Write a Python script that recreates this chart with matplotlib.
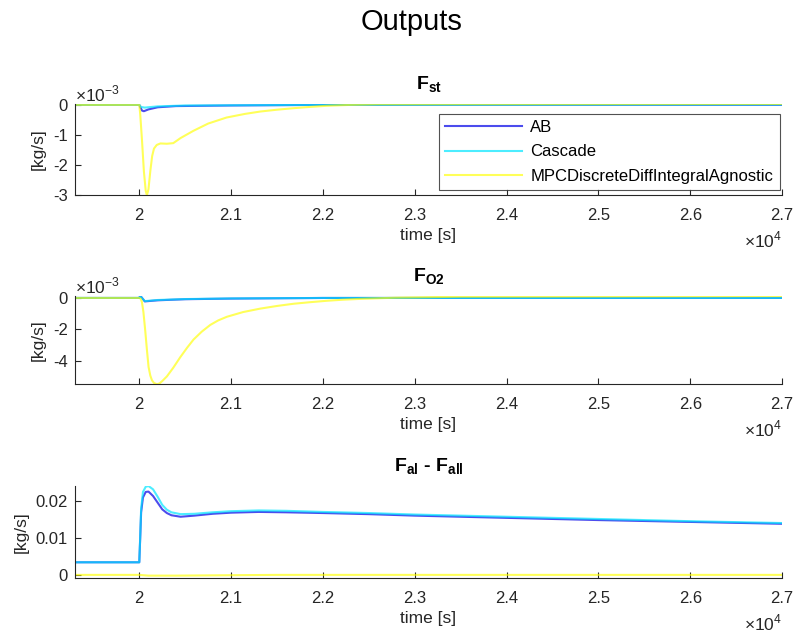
import matplotlib
matplotlib.use('Agg')
import matplotlib.pyplot as plt
import matplotlib.transforms as mtransforms
import numpy as np
from matplotlib.ticker import FuncFormatter, FixedLocator

plt.rcParams['font.family'] = ['Liberation Sans', 'DejaVu Sans']
plt.rcParams['mathtext.fontset'] = 'custom'
plt.rcParams['mathtext.rm'] = 'Liberation Sans'
plt.rcParams['mathtext.bf'] = 'Liberation Sans:bold'

names = ['AB', 'Cascade', 'MPCDiscreteDiffIntegralAgnostic']
colors = ['#0000e6', '#00e6ff', '#ffff00']
alphas = [0.7, 0.7, 0.65]

# F_st [kg/s]
t_st_ab = [19300, 20000, 20015, 20030, 20050, 20100, 20200, 20400, 21000, 22000, 27000]
st_ab = [0, 0, -0.1e-3, -0.19e-3, -0.21e-3, -0.15e-3, -0.08e-3, -0.04e-3, -0.02e-3, 0, 0]
t_st_cas = [19300, 20000, 20020, 20060, 20200, 20500, 22000, 27000]
st_cas = [0, 0, -0.07e-3, -0.09e-3, -0.05e-3, -0.02e-3, 0, 0.01e-3]
t_st_mpc = [19300, 20000, 20010, 20030, 20050, 20070, 20083, 20100, 20120, 20140, 20160,
            20190, 20230, 20300, 20370, 20450, 20590, 20750, 20950, 21150, 21320, 21500,
            21680, 21850, 22040, 22300, 22600, 27000]
st_mpc = [0, 0, -0.3e-3, -1.2e-3, -2.2e-3, -2.85e-3, -3.0e-3, -2.8e-3, -2.2e-3, -1.7e-3, -1.45e-3,
          -1.33e-3, -1.28e-3, -1.29e-3, -1.27e-3, -1.1e-3, -0.86e-3, -0.62e-3, -0.42e-3, -0.3e-3,
          -0.22e-3, -0.16e-3, -0.11e-3, -0.07e-3, -0.03e-3, 0, 0.02e-3, 0.03e-3]

# F_O2 [kg/s]
t_o2_ab = [19300, 20000, 20010, 20030, 20060, 20200, 20500, 21000, 22000, 27000]
o2_ab = [0, 0, 0.15e-3, 0, -0.22e-3, -0.15e-3, -0.08e-3, -0.04e-3, 0, 0]
t_o2_cas = [19300, 20000, 20010, 20030, 20060, 20200, 20500, 21000, 22000, 27000]
o2_cas = [0, 0, 0.12e-3, 0, -0.2e-3, -0.13e-3, -0.07e-3, -0.03e-3, 0, 0]
t_o2_mpc = [19300, 20000, 20015, 20029, 20045, 20065, 20083, 20101, 20120, 20138, 20160,
            20192, 20220, 20250, 20301, 20370, 20446, 20520, 20591, 20680, 20773, 20860,
            20954, 21130, 21317, 21500, 21680, 21860, 22042, 22220, 22405, 22800, 23500, 27000]
o2_mpc = [0, 0, -0.05e-3, -0.27e-3, -0.9e-3, -2.1e-3, -3.3e-3, -4.4e-3, -4.95e-3, -5.25e-3,
          -5.42e-3, -5.5e-3, -5.45e-3, -5.3e-3, -5.0e-3, -4.45e-3, -3.78e-3, -3.18e-3,
          -2.65e-3, -2.15e-3, -1.72e-3, -1.43e-3, -1.2e-3, -0.9e-3, -0.68e-3, -0.51e-3,
          -0.37e-3, -0.27e-3, -0.18e-3, -0.11e-3, -0.06e-3, 0.02e-3, 0.08e-3, 0.12e-3]

# F_al - F_all [kg/s]
t_al = [19300, 20000, 20010, 20020, 20040, 20070, 20100, 20150, 20200, 20250, 20300, 20350,
        20450, 20600, 20800, 21000, 21300, 21600, 22000, 22500, 23000, 24000, 25000, 26000, 27000]
al_ab = [0.0035, 0.0035, 0.010, 0.017, 0.021, 0.0225, 0.0226, 0.0214, 0.0196, 0.0178, 0.0168,
         0.0162, 0.0158, 0.0161, 0.0166, 0.0169, 0.0171, 0.0170, 0.0168, 0.0165, 0.0161,
         0.0155, 0.0149, 0.0144, 0.0139]
al_cas = [0.0035, 0.0035, 0.0105, 0.018, 0.0225, 0.0239, 0.0241, 0.0232, 0.0212, 0.0190,
          0.0177, 0.0170, 0.0165, 0.0166, 0.0170, 0.0173, 0.0175, 0.0174, 0.0171, 0.0168,
          0.0164, 0.0158, 0.0152, 0.0146, 0.0141]
t_al_mpc = [19300, 20000, 20100, 20400, 21500, 27000]
al_mpc = [0.0001, 0.0001, -0.0001, -0.0001, 0.0001, 0.0001]

fig = plt.figure(figsize=(7.98, 6.34), dpi=100)
fig.text(0.516, 0.966, 'Outputs', ha='center', va='center', fontsize=21)

boxes = [[0.094, 0.692, 0.886, 0.144],
         [0.094, 0.394, 0.886, 0.139],
         [0.094, 0.088, 0.886, 0.146]]
titles = [r'F$_{\mathbf{st}}$', r'F$_{\mathbf{O2}}$', r'F$_{\mathbf{al}}$ - F$_{\mathbf{all}}$']
series = [
    [(t_st_ab, st_ab), (t_st_cas, st_cas), (t_st_mpc, st_mpc)],
    [(t_o2_ab, o2_ab), (t_o2_cas, o2_cas), (t_o2_mpc, o2_mpc)],
    [(t_al, al_ab), (t_al, al_cas), (t_al_mpc, al_mpc)],
]
ylims = [(-3.0e-3, 0.03e-3), (-5.5e-3, 0.12e-3), (-0.0008, 0.0242)]
yticks = [[-3e-3, -2e-3, -1e-3, 0], [-4e-3, -2e-3, 0], [0, 0.01, 0.02]]
yscale = [1e3, 1e3, 1]

axes = []
for i in range(3):
    ax = fig.add_axes(boxes[i])
    axes.append(ax)
    for k in range(3):
        t, v = series[i][k]
        ax.plot(t, v, color=colors[k], lw=1.5, alpha=alphas[k], label=names[k])
    ax.set_xlim(19300, 27000)
    ax.set_ylim(*ylims[i])
    ax.xaxis.set_major_locator(FixedLocator([20000, 21000, 22000, 23000, 24000, 25000, 26000, 27000]))
    ax.xaxis.set_major_formatter(FuncFormatter(lambda v, _: f'{v / 1e4:g}'))
    ax.yaxis.set_major_locator(FixedLocator(yticks[i]))
    sc = yscale[i]
    ax.yaxis.set_major_formatter(FuncFormatter(lambda v, _, sc=sc: f'{round(v * sc, 6):g}'))
    for s in ['top', 'right']:
        ax.spines[s].set_visible(False)
    for s in ['left', 'bottom']:
        ax.spines[s].set_color('#262626')
        ax.spines[s].set_linewidth(0.8)
    ax.tick_params(direction='in', length=4, width=0.8, colors='#262626', labelsize=12)
    ax.tick_params(axis='x', pad=9)
    ax.tick_params(axis='y', pad=5)
    ax.set_xlabel('time [s]', fontsize=12.5, color='#262626', labelpad=4)
    ax.set_ylabel('[kg/s]', fontsize=12.5, color='#262626', labelpad=5)
    ax.set_title(titles[i], fontsize=14, fontweight='bold', pad=10)
    tr = ax.transAxes + mtransforms.ScaledTranslation(0, -45 / 100, fig.dpi_scale_trans)
    ax.text(1.0, 0.0, r'$\times10^{4}$', transform=tr, ha='right', va='center',
            fontsize=12.5, color='#262626')
    if i < 2:
        ax.text(0.0, 1.0, r'$\times10^{-3}$', transform=ax.transAxes, ha='left', va='bottom',
                fontsize=12.5, color='#262626')

leg = axes[0].legend(loc='lower right', bbox_to_anchor=(0.997, 0.055), borderaxespad=0,
                     fontsize=12, frameon=True, fancybox=False, handlelength=4.6,
                     labelspacing=0.55, borderpad=0.4, handletextpad=0.5)
leg.get_frame().set_edgecolor('#262626')
leg.get_frame().set_linewidth(0.8)

fig.savefig('out.png', dpi=100, facecolor='white')
